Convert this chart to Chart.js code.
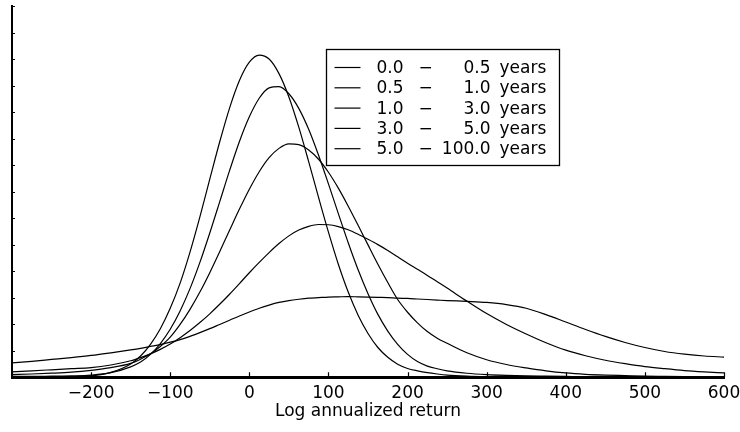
<!DOCTYPE html>
<html>
<head>
<meta charset="utf-8">
<script src="https://cdn.jsdelivr.net/npm/chart.js@4.4.1/dist/chart.umd.min.js"></script>
<style>
  html, body { margin: 0; padding: 0; background: #ffffff; }
  #wrap { width: 740px; height: 432px; }
</style>
</head>
<body>
<div id="wrap"><canvas id="return-density"></canvas></div>
<script>
// Log annualized return, density by holding period
const returns = [-300, -275, -250, -225, -200, -175,
    -150, -137.5, -125, -112.5, -100, -87.5, -75, -62.5, -50, -37.5, -25, -12.5,
    0, 12.5, 25, 37.5, 50, 62.5, 75, 87.5, 100, 112.5, 125, 137.5, 150, 162.5,
    175, 187.5, 200, 212.5, 225, 237.5, 250,
    275, 300, 325, 350, 375, 400, 425, 450, 475, 500, 525, 550, 575, 600];

const periodStart = [0.0, 0.5, 1.0, 3.0, 5.0];
const periodEnd = [0.5, 1.0, 3.0, 5.0, 100.0];

const density0to05 = [0.01, 0.01, 0.01, 0.02, 0.05, 0.18,
    0.5, 0.8, 1.24, 1.83, 2.6, 3.55, 4.72, 6.05, 7.47, 8.87, 10.15, 11.19,
    11.88, 12.15, 12.0, 11.45, 10.57, 9.43, 8.13, 6.78, 5.47, 4.26, 3.21, 2.34, 1.65, 1.12,
    0.75, 0.49, 0.33, 0.24, 0.17, 0.12, 0.08,
    0.04, 0.02, 0.01, 0.01, 0.01, 0.01, 0.01, 0.01, 0.01, 0.01, 0.01, 0.01, 0.01, 0.01];
const density05to1 = [0.03, 0.03, 0.04, 0.05, 0.08, 0.17,
    0.39, 0.57, 0.86, 1.27, 1.81, 2.5, 3.34, 4.33, 5.44, 6.61, 7.79, 8.89,
    9.82, 10.52, 10.91, 10.96, 10.69, 10.14, 9.35, 8.37, 7.29, 6.17, 5.07, 4.05, 3.15, 2.37,
    1.74, 1.24, 0.86, 0.59, 0.42, 0.32, 0.24,
    0.15, 0.1, 0.07, 0.05, 0.04, 0.03, 0.02, 0.02, 0.01, 0.01, 0.01, 0.01, 0.01, 0.01];
const density1to3 = [0.1, 0.12, 0.15, 0.19, 0.26, 0.36,
    0.52, 0.68, 0.88, 1.16, 1.51, 1.99, 2.56, 3.21, 3.94, 4.73, 5.54, 6.34,
    7.09, 7.75, 8.28, 8.63, 8.8, 8.77, 8.57, 8.22, 7.73, 7.13, 6.45, 5.73, 4.99, 4.26,
    3.57, 2.93, 2.45, 2.05, 1.72, 1.47, 1.28,
    0.92, 0.66, 0.48, 0.35, 0.24, 0.16, 0.11, 0.08, 0.06, 0.04, 0.03, 0.02, 0.01, 0.01];
const density3to5 = [0.2, 0.24, 0.28, 0.32, 0.36, 0.46,
    0.62, 0.74, 0.88, 1.05, 1.25, 1.49, 1.76, 2.06, 2.39, 2.75, 3.13, 3.53,
    3.94, 4.33, 4.7, 5.04, 5.33, 5.55, 5.69, 5.76, 5.75, 5.68, 5.56, 5.39, 5.2, 5.0,
    4.78, 4.54, 4.3, 4.07, 3.84, 3.6, 3.36,
    2.87, 2.4, 1.99, 1.63, 1.3, 1.02, 0.81, 0.64, 0.51, 0.4, 0.32, 0.25, 0.2, 0.16];
const density5to100 = [0.54, 0.6, 0.67, 0.74, 0.82, 0.92,
    1.03, 1.09, 1.16, 1.23, 1.32, 1.42, 1.54, 1.68, 1.83, 1.99, 2.15, 2.31,
    2.46, 2.6, 2.72, 2.82, 2.89, 2.94, 2.98, 3.0, 3.02, 3.03, 3.04, 3.03, 3.02, 3.01,
    3.0, 2.98, 2.97, 2.95, 2.93, 2.91, 2.89,
    2.86, 2.82, 2.74, 2.6, 2.36, 2.08, 1.8, 1.54, 1.31, 1.12, 0.97, 0.87, 0.8, 0.76];

const allDensities = [density0to05, density05to1, density1to3, density3to5, density5to100];

const fontFamily = '"DejaVu Sans", sans-serif';

function periodLabel(i) {
    return periodStart[i].toFixed(1) + ' \u2212 ' + periodEnd[i].toFixed(1) + ' years';
}

const datasets = allDensities.map((dens, i) => ({
    label: periodLabel(i),
    data: returns.map((r, j) => ({ x: r, y: dens[j] })),
    borderColor: '#000000',
    borderWidth: 1.2,
    pointRadius: 0,
    fill: false,
    cubicInterpolationMode: 'monotone'
}));

// tick marks pointing into the plot
const inwardTicks = {
    id: 'inwardTicks',
    afterDraw(chart) {
        const { ctx, scales: { x, y } } = chart;
        ctx.save();
        ctx.strokeStyle = '#000000';
        ctx.lineWidth = 1.2;
        ctx.beginPath();
        x.ticks.forEach(t => {
            const px = Math.round(x.getPixelForValue(t.value)) + 0.5;
            ctx.moveTo(px, y.bottom);
            ctx.lineTo(px, y.bottom - 5);
        });
        y.ticks.forEach(t => {
            const py = Math.round(y.getPixelForValue(t.value)) + 0.5;
            ctx.moveTo(x.left, py);
            ctx.lineTo(x.left + 3, py);
        });
        ctx.stroke();
        ctx.restore();
    }
};

// boxed legend with aligned columns
const boxLegend = {
    id: 'boxLegend',
    afterDraw(chart) {
        const ctx = chart.ctx;
        const left = 326.5, top = 49.5, w = 233, h = 116;
        ctx.save();
        ctx.strokeStyle = '#000000';
        ctx.lineWidth = 1.3;
        ctx.fillStyle = '#ffffff';
        ctx.fillRect(left, top, w, h);
        ctx.strokeRect(left, top, w, h);
        ctx.font = '17px ' + fontFamily;
        ctx.fillStyle = '#000000';
        ctx.textBaseline = 'middle';
        periodStart.forEach((s, i) => {
            const rowY = top + 18 + i * 20.3;
            ctx.beginPath();
            ctx.lineWidth = 1.2;
            ctx.moveTo(left + 8, rowY);
            ctx.lineTo(left + 34, rowY);
            ctx.stroke();
            ctx.textAlign = 'left';
            ctx.fillText(s.toFixed(1), left + 50, rowY + 1);
            ctx.textAlign = 'center';
            ctx.fillText('\u2212', left + 99, rowY + 1);
            ctx.textAlign = 'right';
            ctx.fillText(periodEnd[i].toFixed(1), left + 164, rowY + 1);
            ctx.textAlign = 'left';
            ctx.fillText('years', left + 173, rowY + 1);
        });
        ctx.restore();
    }
};

const config = {
    type: 'line',
    data: { datasets: datasets },
    options: {
        responsive: true,
        maintainAspectRatio: false,
        animation: false,
        layout: {
            padding: { left: 4, top: 6, right: 0, bottom: 10 }
        },
        plugins: {
            legend: { display: false },
            tooltip: { enabled: false }
        },
        scales: {
            x: {
                type: 'linear',
                min: -300,
                max: 600,
                grid: { display: false },
                border: { display: true, color: '#000000', width: 3 },
                afterFit: scale => { scale.paddingRight = 16; },
                ticks: {
                    stepSize: 100,
                    color: '#000000',
                    padding: -2,
                    font: { family: fontFamily, size: 17 },
                    maxRotation: 0,
                    callback: v => (v === -300 ? '' : String(v).replace('-', '\u2212'))
                },
                title: {
                    display: true,
                    text: 'Log annualized return',
                    color: '#000000',
                    font: { family: fontFamily, size: 17 },
                    padding: { top: 0, bottom: 0 }
                }
            },
            y: {
                min: 0,
                max: 14,
                grid: { display: false },
                border: { display: true, color: '#000000', width: 2 },
                ticks: { display: false, stepSize: 1 }
            }
        }
    },
    plugins: [inwardTicks, boxLegend]
};

const returnChart = new Chart(document.getElementById('return-density'), config);
</script>
</body>
</html>
